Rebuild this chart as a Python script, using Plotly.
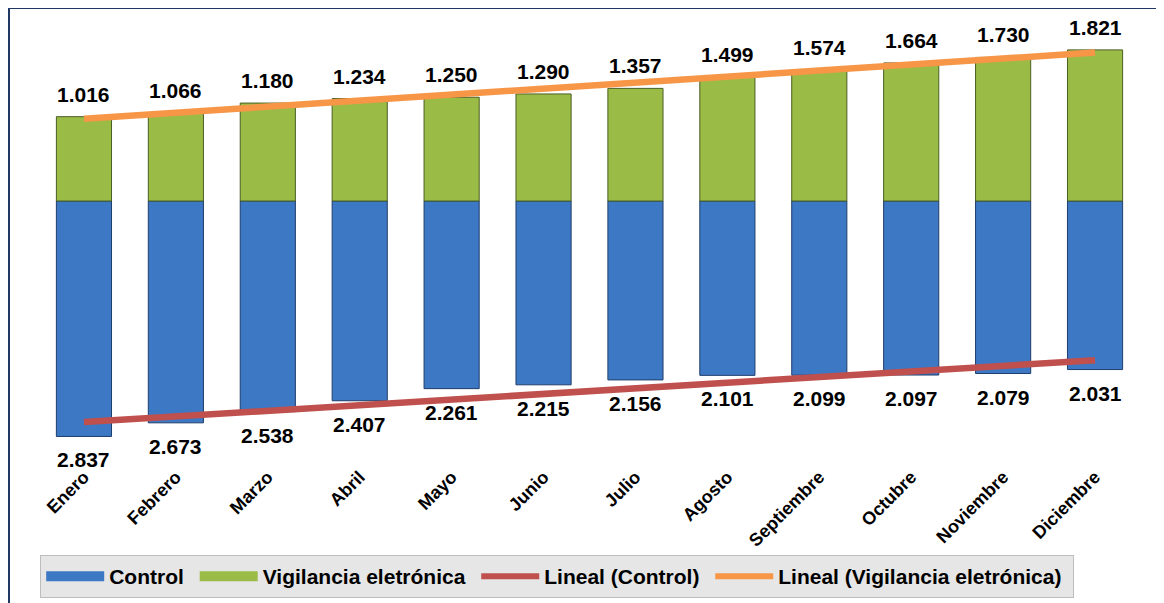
import numpy as np
import plotly.graph_objects as go

meses = ["Enero", "Febrero", "Marzo", "Abril", "Mayo", "Junio", "Julio",
         "Agosto", "Septiembre", "Octubre", "Noviembre", "Diciembre"]
control = [2837, 2673, 2538, 2407, 2261, 2215, 2156, 2101, 2099, 2097, 2079, 2031]
vigilancia = [1016, 1066, 1180, 1234, 1250, 1290, 1357, 1499, 1574, 1664, 1730, 1821]

BLUE = "#3D78C4"
BLUE_LINE = "#1F3D6B"
GREEN = "#9BBB47"
GREEN_LINE = "#4A5E22"
RED = "#C0504D"
ORANGE = "#F79646"
FONT = "Liberation Sans"
NB = "\u00a0"

def fmt(v):
    return f"{v:,}".replace(",", ".")

idx = np.arange(1, len(meses) + 1)
trend_c = np.polyval(np.polyfit(idx, control, 1), idx)
trend_v = np.polyval(np.polyfit(idx, vigilancia, 1), idx)

fig = go.Figure()
fig.add_trace(go.Bar(x=meses, y=[-v for v in control], name="Control",
                     marker=dict(color=BLUE, line=dict(color=BLUE_LINE, width=1)),
                     showlegend=False, hoverinfo="skip"))
fig.add_trace(go.Bar(x=meses, y=vigilancia, name="Vigilancia eletrónica",
                     marker=dict(color=GREEN, line=dict(color=GREEN_LINE, width=1)),
                     showlegend=False, hoverinfo="skip"))
fig.add_trace(go.Scatter(x=meses, y=-trend_c, mode="lines", name="Lineal (Control)",
                         line=dict(color=RED, width=6.5), showlegend=False))
fig.add_trace(go.Scatter(x=meses, y=trend_v, mode="lines", name="Lineal (Vigilancia eletrónica)",
                         line=dict(color=ORANGE, width=6.5), showlegend=False))

# legend entries
for name, col in [("Control", BLUE), ("Vigilancia eletrónica", GREEN),
                  ("Lineal (Control)", RED), ("Lineal (Vigilancia eletrónica)", ORANGE)]:
    w = 10 if name in ("Control", "Vigilancia eletrónica") else 6
    fig.add_trace(go.Scatter(x=[None], y=[None], mode="lines", name=name + NB,
                             line=dict(color=col, width=w), showlegend=True))

annotations = []
for m, v in zip(meses, vigilancia):
    annotations.append(dict(x=m, y=v, text=fmt(v), showarrow=False, yanchor="bottom",
                            yshift=9, font=dict(family=FONT, size=21, color="black", weight="bold")))
for m, v in zip(meses, control):
    annotations.append(dict(x=m, y=-v, text=fmt(v), showarrow=False, yanchor="top",
                            yshift=-10, font=dict(family=FONT, size=21, color="black", weight="bold")))

fig.update_layout(
    width=1156, height=595,
    margin=dict(l=30, r=23, t=12, b=141, autoexpand=False),
    barmode="relative", bargap=0.4,
    plot_bgcolor="white", paper_bgcolor="white",
    annotations=annotations,
    xaxis=dict(tickangle=-45, showline=False, showgrid=False, ticks="", automargin=False,
               tickfont=dict(family=FONT, size=18, color="black", weight="bold")),
    yaxis=dict(range=[-3145, 2181], visible=False, showgrid=False, zeroline=False,
               automargin=False),
    legend=dict(orientation="h", x=0.002, xanchor="left",
                yref="container", y=0.0084, yanchor="bottom",
                bgcolor="#E6E6E6", bordercolor="#BDBDBD", borderwidth=1,
                itemwidth=58, tracegroupgap=0,
                font=dict(family=FONT, size=21, color="black", weight="bold")),
    shapes=[dict(type="rect", xref="paper", yref="paper",
                 x0=-0.0263, x1=1.2, y0=-0.5, y1=1.0271,
                 line=dict(color="#1F3864", width=2), fillcolor="rgba(0,0,0,0)",
                 layer="below")],
    showlegend=True,
)

fig.write_html("out.html")
